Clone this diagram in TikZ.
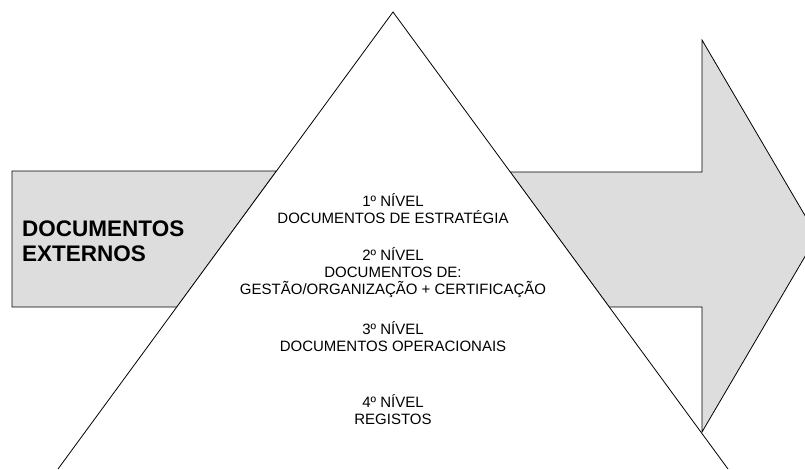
\documentclass[tikz,border=0pt]{standalone}
\usepackage{fontspec}
\setmainfont{Liberation Sans}
\definecolor{boxgray}{HTML}{DDDDDD}
\begin{document}
\begin{tikzpicture}[x=1pt,y=-1pt,
  shape line/.style={draw=black,line width=0.8pt,line join=miter},
  lvl/.style={anchor=base,inner sep=0pt,font=\fontsize{15}{17}\selectfont},
  big/.style={anchor=base west,inner sep=0pt,font=\fontsize{22.5}{25}\selectfont\bfseries}]
\useasboundingbox (0,0) rectangle (805,469);
\clip (0,0) rectangle (805,469);
% named corner points
\coordinate (apex) at (393,12);
\coordinate (bl) at (58,469);
\coordinate (br) at (728,469);
% left box
\coordinate (lb1) at (12,171);
\coordinate (lb2) at (276.5,171);
\coordinate (lb3) at (177,307);
\coordinate (lb4) at (12,307);
\filldraw[shape line,fill=boxgray] (lb1) -- (lb2) -- (lb3) -- (lb4) -- cycle;
% right arrow
\coordinate (ra1) at (510,172);
\coordinate (ra2) at (702,172);
\coordinate (ra3) at (702,40);
\coordinate (ra4) at (817,236);
\coordinate (ra5) at (702,432);
\coordinate (ra6) at (702,307);
\coordinate (ra7) at (609,307);
\filldraw[shape line,fill=boxgray] (ra1) -- (ra2) -- (ra3) -- (ra4) -- (ra5) -- (ra6) -- (ra7) -- cycle;
% triangle
\fill[white] (bl) -- (apex) -- (br) -- cycle;
\draw[shape line] (bl) -- (apex) -- (br);
% texts
\node[big] (ext1) at (22,236) {DOCUMENTOS};
\node[big] (ext2) at (22,261) {EXTERNOS};
\node[lvl] (n1a) at (393,206.5) {1º NÍVEL};
\node[lvl] (n1b) at (393,223) {DOCUMENTOS DE ESTRATÉGIA};
\node[lvl] (n2a) at (393,260.5) {2º NÍVEL};
\node[lvl] (n2b) at (393,277) {DOCUMENTOS DE:};
\node[lvl] (n2c) at (393,294) {GESTÃO/ORGANIZAÇÃO + CERTIFICAÇÃO};
\node[lvl] (n3a) at (393,334) {3º NÍVEL};
\node[lvl] (n3b) at (393,351) {DOCUMENTOS OPERACIONAIS};
\node[lvl] (n4a) at (393,407) {4º NÍVEL};
\node[lvl] (n4b) at (393,424) {REGISTOS};
\end{tikzpicture}
\end{document}
